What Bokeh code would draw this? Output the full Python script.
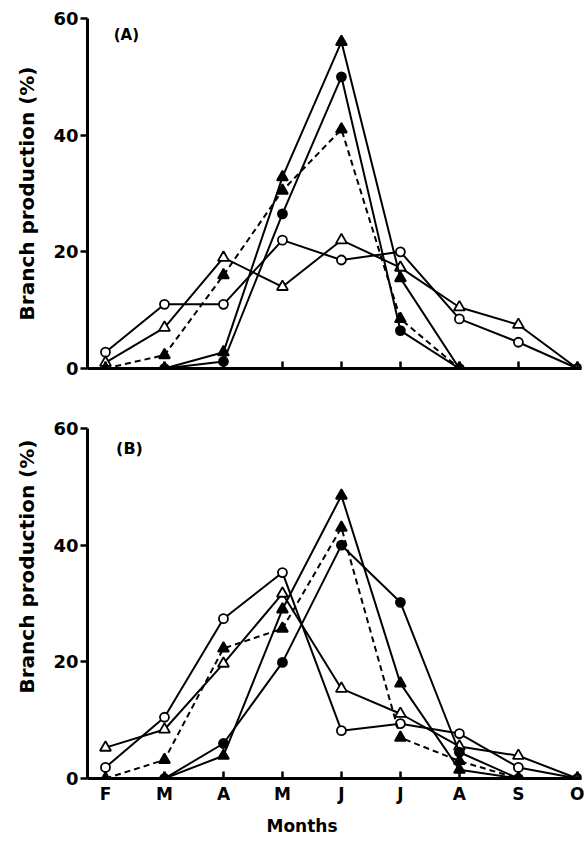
from bokeh.plotting import figure
from bokeh.layouts import column
from bokeh.models import Range1d, FixedTicker, Label, Title
from bokeh.embed import file_html
from bokeh.resources import INLINE

months = ["F", "M", "A", "M", "J", "J", "A", "S", "O"]
yticks = [0, 20, 40, 60]

# Panel A (x index into months)
a_open_circle_x = [0, 1, 2, 3, 4, 5, 6, 7, 8]
a_open_circle = [2.8, 11, 11, 22, 18.6, 20, 8.5, 4.5, 0]
a_open_tri_x = [0, 1, 2, 3, 4, 5, 6, 7, 8]
a_open_tri = [1, 7, 19, 14, 22, 17.3, 10.5, 7.5, 0]
a_dash_tri_x = [0, 1, 2, 3, 4, 5, 6]
a_dash_tri = [0, 2.3, 16, 30.5, 41, 8.5, 0]
a_filled_tri_x = [1, 2, 3, 4, 5, 6]
a_filled_tri = [0, 2.8, 32.8, 56, 15.5, 0]
a_filled_circ_x = [1, 2, 3, 4, 5, 6]
a_filled_circ = [0, 1.2, 26.5, 50, 6.5, 0]

# Panel B
b_open_circle_x = [0, 1, 2, 3, 4, 5, 6, 7, 8]
b_open_circle = [1.9, 10.5, 27.4, 35.3, 8.2, 9.4, 7.7, 1.9, 0]
b_open_tri_x = [0, 1, 2, 3, 4, 5, 6, 7, 8]
b_open_tri = [5.3, 8.4, 19.7, 31.7, 15.4, 11.1, 5.5, 3.9, 0]
b_dash_tri_x = [0, 1, 2, 3, 4, 5, 6, 7]
b_dash_tri = [0, 3.2, 22.3, 25.7, 43, 7, 3, 0]
b_filled_tri_x = [1, 2, 3, 4, 5, 6, 7]
b_filled_tri = [0, 3.9, 29, 48.5, 16.3, 1.5, 0]
b_filled_circ_x = [1, 2, 3, 4, 5, 6, 7]
b_filled_circ = [0, 6, 19.9, 40, 30.2, 4.5, 0]

FONT = "DejaVu Sans"


def make_panel(height, top, bottom, show_labels):
    p = figure(width=584, height=height, output_backend="svg", toolbar_location=None,
               x_range=Range1d(-0.305, 8.07), y_range=Range1d(0, 60),
               min_border_left=87, min_border_right=3, min_border_top=top,
               min_border_bottom=bottom)
    p.outline_line_color = None
    p.xgrid.visible = False
    p.ygrid.visible = False
    p.background_fill_color = "white"
    p.border_fill_color = "white"
    for ax in (p.xaxis[0], p.yaxis[0]):
        ax.axis_line_width = 3
        ax.major_tick_line_width = 2.5
        ax.minor_tick_line_color = None
        ax.major_label_text_font = FONT
        ax.major_label_text_font_style = "bold"
        ax.major_label_text_color = "black"
    p.yaxis.ticker = FixedTicker(ticks=yticks)
    p.yaxis.major_tick_out = 7
    p.yaxis.major_tick_in = 0
    p.yaxis.major_label_standoff = 2
    p.yaxis.major_label_text_font_size = "18px"
    p.xaxis.ticker = FixedTicker(ticks=list(range(len(months))))
    if show_labels:
        p.xaxis.major_label_overrides = {i: m for i, m in enumerate(months)}
    else:
        p.xaxis.major_label_overrides = {i: "" for i in range(len(months))}
    p.xaxis.major_tick_in = 7
    p.xaxis.major_tick_out = 0
    p.xaxis.major_label_standoff = 5
    p.xaxis.major_label_text_font_size = "17px"
    return p


def draw(p, xs, ys, marker, filled, dash="solid"):
    p.line(xs, ys, line_color="black", line_width=2, line_dash=dash)
    fill = "black" if filled else "white"
    size = 11 if marker == "triangle" else 9
    p.scatter(xs, ys, marker=marker, size=size, fill_color=fill,
              line_color="black", line_width=1.8)


def ylabel(p, align, offset):
    p.add_layout(Title(text="Branch production (%)", align=align, offset=offset,
                       standoff=24, text_font=FONT, text_font_style="bold",
                       text_font_size="20px", text_color="black"), "left")


pa = make_panel(398, 18, 30, False)
draw(pa, a_open_circle_x, a_open_circle, "circle", False)
draw(pa, a_open_tri_x, a_open_tri, "triangle", False)
draw(pa, a_dash_tri_x, a_dash_tri, "triangle", True, "6 4")
draw(pa, a_filled_tri_x, a_filled_tri, "triangle", True)
draw(pa, a_filled_circ_x, a_filled_circ, "circle", True)
pa.add_layout(Label(x=0.14, y=58.65, text="(A)", text_font=FONT, text_font_style="bold",
                    text_font_size="15px", text_baseline="top", text_color="black"))
ylabel(pa, "center", 0)

pb = make_panel(445, 30, 65, True)
draw(pb, b_open_circle_x, b_open_circle, "circle", False)
draw(pb, b_open_tri_x, b_open_tri, "triangle", False)
draw(pb, b_dash_tri_x, b_dash_tri, "triangle", True, "6 4")
draw(pb, b_filled_tri_x, b_filled_tri, "triangle", True)
draw(pb, b_filled_circ_x, b_filled_circ, "circle", True)
pb.add_layout(Label(x=0.18, y=58.15, text="(B)", text_font=FONT, text_font_style="bold",
                    text_font_size="16px", text_baseline="top", text_color="black"))
ylabel(pb, "left", 85)
pb.add_layout(Title(text="Months", align="left", offset=179, standoff=15,
                    text_font=FONT, text_font_style="bold", text_font_size="17px",
                    text_color="black"), "below")

layout = column(pa, pb, spacing=0)
open("out.html", "w").write(file_html(layout, INLINE))
